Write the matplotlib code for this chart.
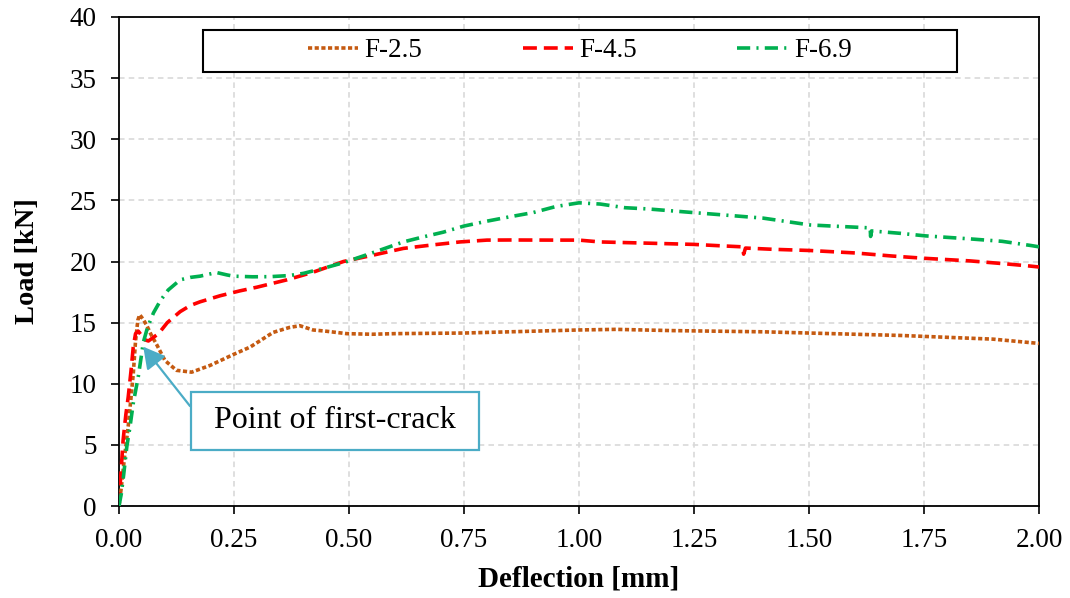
import matplotlib
matplotlib.use("Agg")
import matplotlib.pyplot as plt
from matplotlib.patches import Rectangle

plt.rcParams['font.family'] = ['Liberation Serif', 'DejaVu Serif']
plt.rcParams['lines.scale_dashes'] = False

# ---------------- data ----------------
f25_x = [0.000, 0.005, 0.012, 0.020, 0.026, 0.031, 0.036, 0.041, 0.045, 0.052, 0.060, 0.070,
         0.082, 0.100, 0.125, 0.158, 0.198, 0.249, 0.285, 0.335, 0.370, 0.393, 0.422, 0.450,
         0.495, 0.55, 0.60, 0.75, 0.80, 0.90, 1.00, 1.08, 1.20, 1.30, 1.40, 1.50, 1.60, 1.70,
         1.80, 1.90, 2.00]
f25_y = [0.0, 1.5, 4.0, 6.5, 8.8, 10.8, 13.5, 15.2, 15.65, 15.3, 14.8, 14.0,
         13.2, 11.9, 11.1, 10.95, 11.5, 12.4, 13.0, 14.2, 14.6, 14.75, 14.4, 14.3,
         14.1, 14.05, 14.1, 14.15, 14.2, 14.3, 14.4, 14.45, 14.35, 14.3, 14.25, 14.15, 14.05, 13.95,
         13.8, 13.65, 13.3]

f45_x = [0.000, 0.003, 0.009, 0.015, 0.020, 0.026, 0.031, 0.036, 0.042, 0.048, 0.056, 0.064,
         0.075, 0.086, 0.105, 0.133, 0.155, 0.176, 0.22, 0.263, 0.30, 0.365, 0.42, 0.488,
         0.55, 0.618, 0.68, 0.741, 0.80, 0.85, 0.95, 1.00, 1.046, 1.15, 1.249, 1.300, 1.355,
         1.358, 1.362, 1.42, 1.502, 1.60, 1.68, 1.752, 1.85, 1.93, 1.98, 2.00]
f45_y = [0.0, 2.0, 5.4, 7.5, 8.9, 11.0, 13.0, 14.1, 14.3, 14.0, 13.6, 13.5,
         13.8, 14.1, 15.0, 15.9, 16.4, 16.7, 17.2, 17.6, 17.9, 18.5, 19.1, 20.0,
         20.5, 21.07, 21.35, 21.6, 21.75, 21.76, 21.75, 21.75, 21.6, 21.5, 21.4, 21.3, 21.2,
         20.6, 21.1, 21.0, 20.9, 20.7, 20.45, 20.26, 20.05, 19.8, 19.63, 19.55]

f69_x = [0.000, 0.005, 0.010, 0.017, 0.024, 0.031, 0.042, 0.053, 0.062, 0.075, 0.090, 0.107,
         0.133, 0.155, 0.176, 0.212, 0.235, 0.249, 0.29, 0.328, 0.37, 0.401, 0.44, 0.488,
         0.55, 0.618, 0.66, 0.705, 0.75, 0.80, 0.85, 0.90, 0.95, 1.00, 1.046, 1.10, 1.15,
         1.249, 1.30, 1.40, 1.502, 1.55, 1.633, 1.634, 1.636, 1.70, 1.752, 1.85, 1.92, 1.984, 2.00]
f69_y = [0.0, 1.0, 2.5, 4.85, 6.5, 8.4, 10.6, 13.4, 14.6, 15.8, 16.8, 17.67,
         18.5, 18.7, 18.8, 19.1, 18.9, 18.8, 18.75, 18.76, 18.85, 19.03, 19.4, 19.9,
         20.7, 21.6, 22.0, 22.4, 22.9, 23.3, 23.66, 24.0, 24.5, 24.8, 24.7, 24.4, 24.3,
         24.0, 23.85, 23.55, 22.99, 22.9, 22.75, 22.05, 22.5, 22.3, 22.1, 21.85, 21.65, 21.3, 21.2]

series_labels = ["F-2.5", "F-4.5", "F-6.9"]
x_ticks = [0.00, 0.25, 0.50, 0.75, 1.00, 1.25, 1.50, 1.75, 2.00]
y_ticks = [0, 5, 10, 15, 20, 25, 30, 35, 40]
annot_text = "Point of first-crack"

# ---------------- figure ----------------
fig = plt.figure(figsize=(10.70, 5.98), dpi=100)
ax = fig.add_axes([0.1112, 0.1538, 0.9710 - 0.1112, 0.9716 - 0.1538])

c25, c45, c69 = "#C55A11", "#FF0000", "#00B050"
lw = 2.6
ax.plot(f25_x, f25_y, color=c25, lw=lw, dashes=(3.0, 1.8), label=series_labels[0], zorder=3)
ax.plot(f45_x, f45_y, color=c45, lw=lw, dashes=(10.0, 5.0), label=series_labels[1], zorder=3)
ax.plot(f69_x, f69_y, color=c69, lw=lw, dashes=(9.5, 4.5, 1.5, 4.5), label=series_labels[2], zorder=3)

ax.set_xlim(0, 2.0)
ax.set_ylim(0, 40)
ax.set_xticks(x_ticks)
ax.set_xticklabels([f"{v:.2f}" for v in x_ticks])
ax.set_yticks(y_ticks)
ax.set_yticklabels([str(v) for v in y_ticks])
ax.tick_params(axis='both', direction='out', length=6, width=1.2, labelsize=19.5, pad=10, colors='black')

ax.grid(True, color="#D9D9D9", linestyle=(0, (4, 3)), linewidth=1.2, zorder=0)
ax.set_axisbelow(True)
for s in ax.spines.values():
    s.set_color('black')
    s.set_linewidth(1.3)

ax.set_xlabel("Deflection [mm]", fontsize=21, fontweight='bold', labelpad=8.5)
ax.set_ylabel("Load [kN]", fontsize=20.5, fontweight='bold', labelpad=21)

# legend with a framed box
leg_box = (0.091, 0.888, 0.820, 0.085)
ax.add_patch(Rectangle((leg_box[0], leg_box[1]), leg_box[2], leg_box[3], transform=ax.transAxes,
                       facecolor='white', edgecolor='black', lw=1.5, zorder=5))
leg = ax.legend(loc='center', bbox_to_anchor=(leg_box[0] + leg_box[2] / 2, leg_box[1] + leg_box[3] / 2),
                ncol=3, frameon=False, fontsize=19.5, handlelength=1.85, handletextpad=0.25,
                columnspacing=3.7, borderaxespad=0)
leg.set_zorder(6)

# annotation box and arrow
acol = "#4BACC6"
ax.add_patch(Rectangle((0.1565, 4.58), 0.7826 - 0.1565, 9.33 - 4.58, facecolor='white',
                       edgecolor=acol, lw=1.6, zorder=6))
ax.text((0.1565 + 0.7826) / 2, (4.58 + 9.33) / 2, annot_text, ha='center', va='center',
        fontsize=23, zorder=7)
ax.annotate("", xy=(0.0528, 13.03), xytext=(0.1543, 8.18),
            arrowprops=dict(arrowstyle="-|>,head_length=1.0,head_width=0.55", color=acol,
                            lw=1.6, mutation_scale=13, shrinkA=0, shrinkB=0), zorder=7)

fig.savefig("out.png", dpi=100)
